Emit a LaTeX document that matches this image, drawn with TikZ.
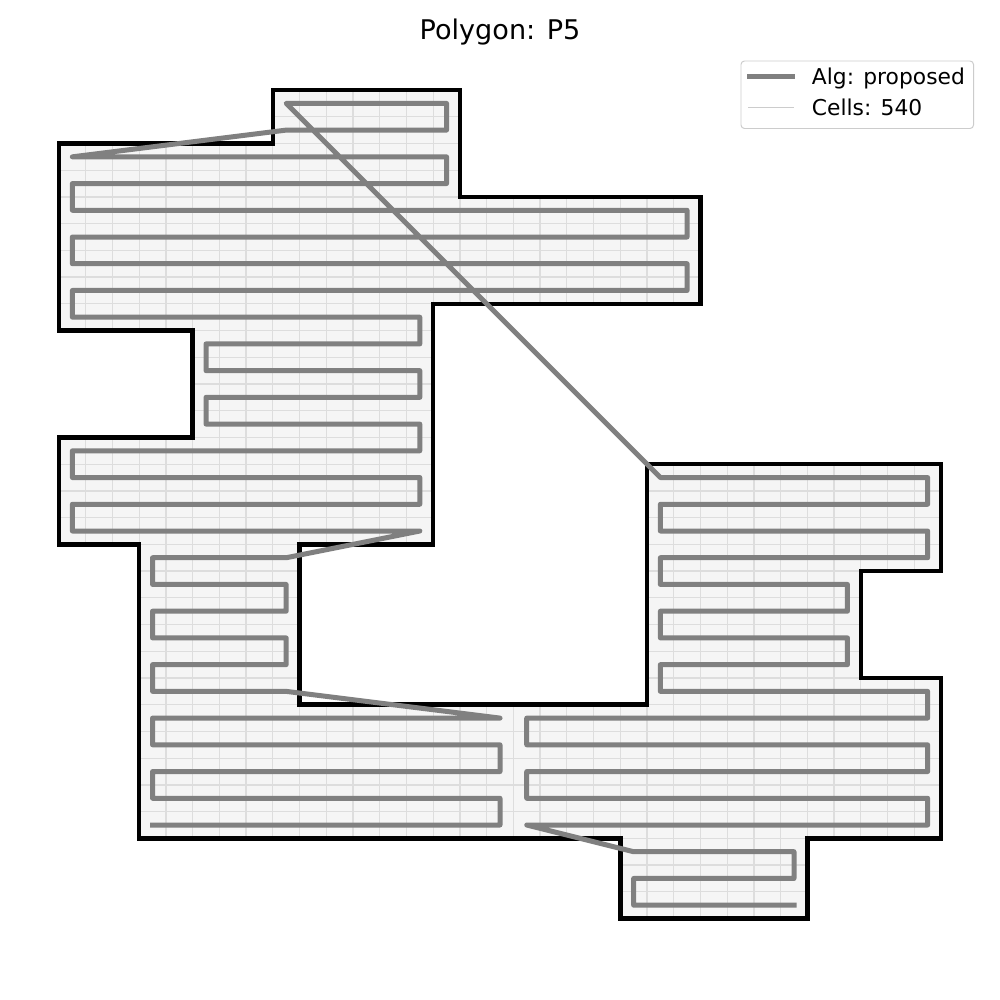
\documentclass[tikz,border=0pt]{standalone}
\usepackage{fontspec}
\setmainfont{DejaVu Sans}
\definecolor{cellfill}{HTML}{F5F5F5}
\definecolor{cellgrid}{HTML}{DDDDDD}
\definecolor{pathgray}{HTML}{808080}
\definecolor{legedge}{HTML}{CCCCCC}
\tikzset{
  outlinestyle/.style={draw=black,line width=3.3pt,line join=miter},
  sweepstyle/.style={draw=pathgray,line width=3.6pt,line join=round,line cap=rect},
  gridstyle/.style={draw=cellgrid,line width=0.9pt},
}
\begin{document}
\begin{tikzpicture}[x=0.72pt,y=-0.72pt]
\useasboundingbox (0,0) rectangle (1000,1000);
\fill[white] (0,0) rectangle (1000,1000);
% title
\node[anchor=base,inner sep=0pt,font=\fontsize{19.5}{23}\selectfont] (title) at (500,39.3) {Polygon: P5};
\begin{scope}[shift={(59,90)},x=19.2436pt,y=-19.2436pt]
  \def\poly{(8,0) -- (15,0) -- (15,4) -- (24,4) -- (24,8) -- (14,8) -- (14,17) -- (9,17) -- (9,23) -- (22,23) -- (22,14) -- (33,14) -- (33,18) -- (30,18) -- (30,22) -- (33,22) -- (33,28) -- (28,28) -- (28,31) -- (21,31) -- (21,28) -- (3,28) -- (3,17) -- (0,17) -- (0,13) -- (5,13) -- (5,9) -- (0,9) -- (0,2) -- (8,2) -- cycle}
  \fill[cellfill] \poly;
  \begin{scope}
    \clip \poly;
    \foreach \i in {0,...,33} {\draw[gridstyle] (\i,0) -- (\i,31);}
    \foreach \j in {0,...,31} {\draw[gridstyle] (0,\j) -- (33,\j);}
  \end{scope}
  \draw[outlinestyle] \poly;
  \begin{scope}[shift={(0.5,0.5)}]
    \draw[sweepstyle] (27,30) -- (21,30) -- (21,29) -- (27,29) -- (27,28) -- (21,28) -- (17,27) -- (32,27) -- (32,26) -- (17,26) -- (17,25) -- (32,25) -- (32,24) -- (17,24) -- (17,23) -- (32,23) -- (32,22) -- (22,22) -- (22,21) -- (29,21) -- (29,20) -- (22,20) -- (22,19) -- (29,19) -- (29,18) -- (22,18) -- (22,17) -- (32,17) -- (32,16) -- (22,16) -- (22,15) -- (32,15) -- (32,14) -- (22,14) -- (8,0) -- (14,0) -- (14,1) -- (8,1) -- (0,2) -- (14,2) -- (14,3) -- (0,3) -- (0,4) -- (23,4) -- (23,5) -- (0,5) -- (0,6) -- (23,6) -- (23,7) -- (0,7) -- (0,8) -- (13,8) -- (13,9) -- (5,9) -- (5,10) -- (13,10) -- (13,11) -- (5,11) -- (5,12) -- (13,12) -- (13,13) -- (0,13) -- (0,14) -- (13,14) -- (13,15) -- (0,15) -- (0,16) -- (13,16) -- (8,17) -- (3,17) -- (3,18) -- (8,18) -- (8,19) -- (3,19) -- (3,20) -- (8,20) -- (8,21) -- (3,21) -- (3,22) -- (8,22) -- (16,23) -- (3,23) -- (3,24) -- (16,24) -- (16,25) -- (3,25) -- (3,26) -- (16,26) -- (16,27) -- (3,27);
  \end{scope}
\end{scope}
% legend
\draw[draw=legedge,fill=white,fill opacity=0.8,line width=0.7pt,rounded corners=2.5pt] (741,61) rectangle (973.5,128.5);
\coordinate (s1a) at (747,76.7);
\coordinate (s1b) at (795,76.7);
\coordinate (s2a) at (748,107.7);
\coordinate (s2b) at (794,107.7);
\draw[draw=pathgray,line width=3.6pt] (s1a) -- (s1b);
\draw[draw=legedge,line width=1pt] (s2a) -- (s2b);
\node[anchor=base west,inner sep=0pt,font=\fontsize{15.7}{19}\selectfont] (leg1) at (811.7,85) {Alg: proposed};
\node[anchor=base west,inner sep=0pt,font=\fontsize{15.7}{19}\selectfont] (leg2) at (811.7,115.7) {Cells: 540};
\end{tikzpicture}
\end{document}
